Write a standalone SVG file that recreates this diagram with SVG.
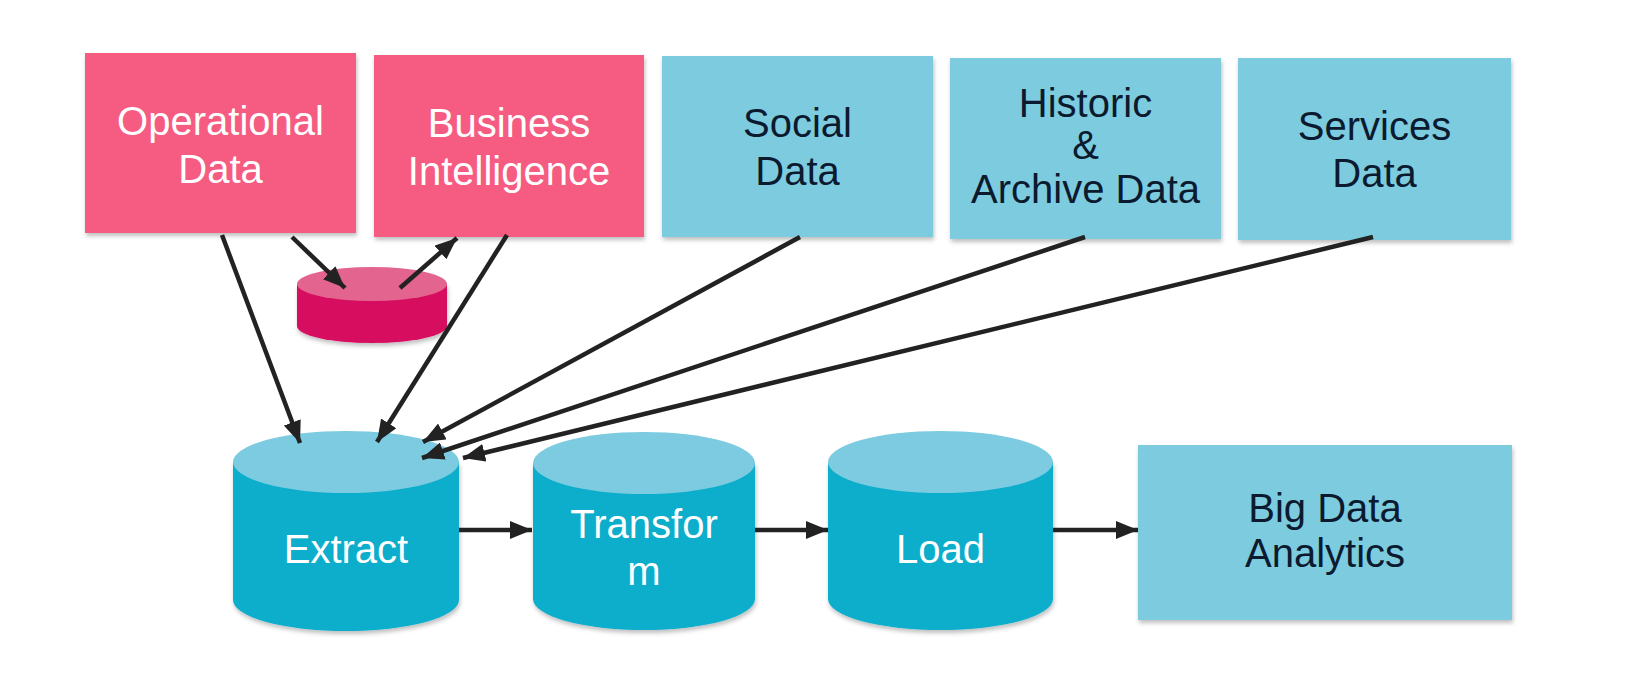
<svg xmlns="http://www.w3.org/2000/svg" width="1628" height="674" viewBox="0 0 1628 674">
  <style>
    .lbl { font-family: "Liberation Sans", Arial, sans-serif; font-size: 40px; text-anchor: middle; }
    .w { fill: #ffffff; }
    .d { fill: #0b1a2e; }
    .pinkbox { fill: #f65c81; }
    .bluebox { fill: #7dcbdf; }
    .cylbody { fill: #10aecb; }
    .cyltop { fill: #7ccbe0; }
    .pbody { fill: #d7085f; }
    .ptop { fill: #e2648f; }
    .conn { stroke: #222222; stroke-width: 4.5; fill: none; marker-end: url(#arr); }
  </style>
  <defs>
    <marker id="arr" markerUnits="userSpaceOnUse" markerWidth="22" markerHeight="18" refX="22" refY="9" orient="auto">
      <path d="M0,0 L22,9 L0,18 Z" fill="#222222"/>
    </marker>
    <filter id="sh" x="-10%" y="-10%" width="120%" height="125%">
      <feDropShadow dx="1" dy="3" stdDeviation="2" flood-color="#000000" flood-opacity="0.25"/>
    </filter>
  </defs>
  <rect width="1628" height="674" fill="#ffffff"/>

  <g id="operational-data">
    <rect class="pinkbox" x="85" y="53" width="271" height="180" filter="url(#sh)"/>
    <text class="lbl w" x="220.5" y="135">Operational</text>
    <text class="lbl w" x="220.5" y="183">Data</text>
  </g>
  <g id="business-intelligence">
    <rect class="pinkbox" x="374" y="55" width="270" height="182" filter="url(#sh)"/>
    <text class="lbl w" x="509" y="137">Business</text>
    <text class="lbl w" x="509" y="185">Intelligence</text>
  </g>
  <g id="social-data">
    <rect class="bluebox" x="662" y="56" width="271" height="181" filter="url(#sh)"/>
    <text class="lbl d" x="797.5" y="137">Social</text>
    <text class="lbl d" x="797.5" y="185">Data</text>
  </g>
  <g id="historic-archive-data">
    <rect class="bluebox" x="950" y="58" width="271" height="181" filter="url(#sh)"/>
    <text class="lbl d" x="1085.5" y="117">Historic</text>
    <text class="lbl d" x="1085.5" y="159">&amp;</text>
    <text class="lbl d" x="1085.5" y="203">Archive Data</text>
  </g>
  <g id="services-data">
    <rect class="bluebox" x="1238" y="58" width="273" height="182" filter="url(#sh)"/>
    <text class="lbl d" x="1374.5" y="140">Services</text>
    <text class="lbl d" x="1374.5" y="187">Data</text>
  </g>

  <g id="bi-store">
    <path class="pbody" d="M297,284 L297,326 A75,17 0 0 0 447,326 L447,284 Z" filter="url(#sh)"/>
    <ellipse class="ptop" cx="372" cy="284" rx="75" ry="17"/>
  </g>

  <g id="extract">
    <path class="cylbody" d="M233,462 L233,600 A113,31 0 0 0 459,600 L459,462 Z" filter="url(#sh)"/>
    <ellipse class="cyltop" cx="346" cy="462" rx="113" ry="31"/>
    <text class="lbl w" x="346" y="563">Extract</text>
  </g>
  <g id="transform">
    <path class="cylbody" d="M533,463 L533,599 A111,31 0 0 0 755,599 L755,463 Z" filter="url(#sh)"/>
    <ellipse class="cyltop" cx="644" cy="463" rx="111" ry="31"/>
    <text class="lbl w" x="644" y="538">Transfor</text>
    <text class="lbl w" x="644" y="585">m</text>
  </g>
  <g id="load">
    <path class="cylbody" d="M828,462 L828,599 A112.5,31 0 0 0 1053,599 L1053,462 Z" filter="url(#sh)"/>
    <ellipse class="cyltop" cx="940.5" cy="462" rx="112.5" ry="31"/>
    <text class="lbl w" x="940.5" y="563">Load</text>
  </g>
  <g id="big-data-analytics">
    <rect class="bluebox" x="1138" y="445" width="374" height="175" filter="url(#sh)"/>
    <text class="lbl d" x="1325" y="522">Big Data</text>
    <text class="lbl d" x="1325" y="567">Analytics</text>
  </g>

  <g id="connectors">
    <line class="conn" x1="222" y1="235" x2="300" y2="443"/>
    <line class="conn" x1="292" y1="237" x2="345" y2="288"/>
    <line class="conn" x1="400" y1="288" x2="457" y2="238"/>
    <line class="conn" x1="507" y1="235" x2="377" y2="442"/>
    <line class="conn" x1="800" y1="237" x2="423" y2="442"/>
    <line class="conn" x1="1085" y1="237" x2="422" y2="458"/>
    <line class="conn" x1="1373" y1="237" x2="463" y2="458"/>
    <line class="conn" x1="459" y1="530" x2="532" y2="530"/>
    <line class="conn" x1="755" y1="530" x2="828" y2="530"/>
    <line class="conn" x1="1053" y1="530" x2="1138" y2="530"/>
  </g>
</svg>
